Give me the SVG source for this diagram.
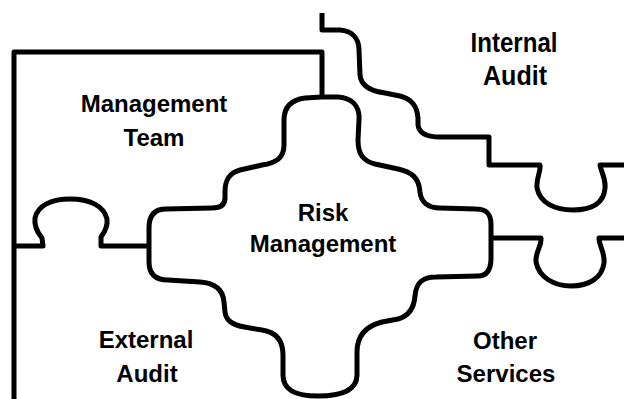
<svg xmlns="http://www.w3.org/2000/svg" width="624" height="399" viewBox="0 0 624 399">
<style>
.ln{fill:none;stroke:#000;stroke-width:5;stroke-linejoin:round;stroke-linecap:butt}
.lb{font-family:"Liberation Sans",Arial,sans-serif;font-weight:bold;font-size:24px;fill:#000;text-anchor:middle}
.lg{font-size:27px}
</style>
<rect width="624" height="399" fill="#fff"/>
<g id="connectors">
<path class="ln" d="M14 399 L14 52 L322 52 L322 97"/>
<path class="ln" d="M322 13 L322 30 L340 30 C352 31 359 38 359 50 L360 75 C361 86 370 91 385 93 L400 96 C412 99 417 106 418 118 L418 125 C419 133 426 137 440 137 L489 137 L489 165 L540 165 C541 172 536 178 537 188 C540 203 555 210 573 210 C592 210 604 203 605 188 C606 178 601 172 600 165 L624 165"/>
<path class="ln" d="M491 238 L541 238 C542 246 535 252 536 262 C539 278 555 286 571 286 C589 286 602 278 604 263 C605 252 599 246 599 238 L624 238"/>
<path class="ln" d="M14 246 L43 246 L42 238 C37 232 34 226 35 218 C38 205 52 199 70 199 C90 199 104 206 107 219 C108 227 104 233 101 237 L101 246 L149 246"/>
</g>
<g id="risk-management">
<path class="ln" d="M322 97 L305 98 C290 100 284 108 284 120 L284 145 C284 158 276 163 262 165 L240 170 C229 173 225 180 225 192 L225 198 C225 205 220 208 212 208 L166 209 C155 209 149 215 149 228 L149 262 C149 274 155 280 168 280 L200 282 C215 283 223 290 224 302 L225 312 C226 322 235 326 250 328 L262 330 C276 332 283 340 283 355 L283 375 C283 390 295 396 318 396 C342 396 357 390 357 375 L357 352 C357 335 366 326 382 322 L398 319 C409 316 414 308 415 296 C416 283 422 277 436 277 L478 276 C487 276 491 270 491 258 L491 225 C491 214 487 209 476 209 L440 208 C428 208 421 202 420 192 C419 178 412 172 398 169 L375 164 C363 161 358 154 358 140 L359 120 C360 106 352 98 338 97 Z"/>
<text class="lb" x="323" y="221">Risk</text>
<text class="lb" x="323" y="252">Management</text>
</g>
<g id="management-team">
<text class="lb" x="154" y="112">Management</text>
<text class="lb" x="154" y="146">Team</text>
</g>
<g id="internal-audit">
<text class="lb lg" x="514" y="52" textLength="87" lengthAdjust="spacingAndGlyphs">Internal</text>
<text class="lb lg" x="515" y="85" textLength="64" lengthAdjust="spacingAndGlyphs">Audit</text>
</g>
<g id="external-audit">
<text class="lb" x="146" y="348">External</text>
<text class="lb" x="147" y="382">Audit</text>
</g>
<g id="other-services">
<text class="lb" x="505" y="349">Other</text>
<text class="lb" x="506" y="382">Services</text>
</g>
</svg>
